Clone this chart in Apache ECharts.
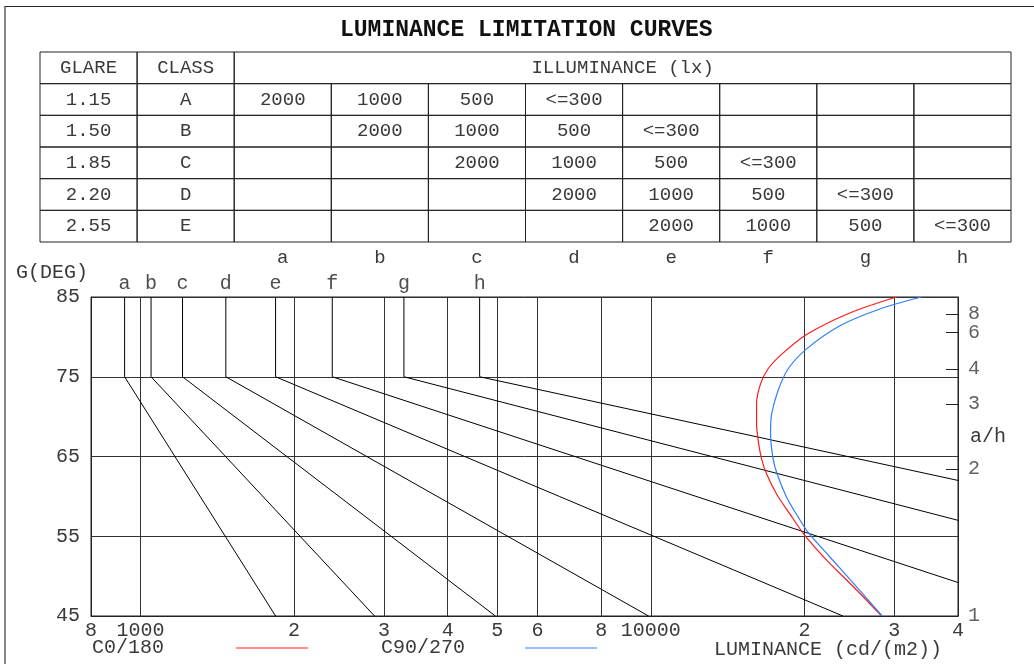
<!DOCTYPE html>
<html>
<head>
<meta charset="utf-8">
<title>Luminance limitation curves</title>
<script src="https://cdn.jsdelivr.net/npm/echarts@6/dist/echarts.min.js"></script>
<style>
html, body { margin: 0; padding: 0; background: #fff; }
#frame {
  position: absolute; left: 4px; top: 6px; width: 1030px; height: 658px;
  border-top: 1px solid #222; border-left: 2px solid #888; box-sizing: border-box;
}
#chart { position: absolute; left: 0; top: 0; width: 1034px; height: 664px; }
</style>
</head>
<body>
<div id="frame"></div>
<div id="chart"></div>
<script>
const FONT = '"Liberation Mono", "DejaVu Sans Mono", monospace';
const TEXT = '#3a3a3a';

// table
const headCells = ['GLARE', 'CLASS', 'ILLUMINANCE (lx)'];
const glareIndex = ['1.15', '1.50', '1.85', '2.20', '2.55'];
const glareClass = ['A', 'B', 'C', 'D', 'E'];
const illuminance = ['2000', '1000', '500', '<=300'];
const curveLetters = ['a', 'b', 'c', 'd', 'e', 'f', 'g', 'h'];

// axis ticks
const lumMin = 800, lumMax = 40000;
const lumTicks = [800, 1000, 2000, 3000, 4000, 5000, 6000, 8000, 10000, 20000, 30000, 40000];
const lumTickLabels = ['8', '1000', '2', '3', '4', '5', '6', '8', '10000', '2', '3', '4'];
const degTicks = [45, 55, 65, 75, 85];
const ratioTicks = [1, 2, 3, 4, 6, 8];   // a/h = tan(G)

// limit lines a..h : vertical 85..75 deg, then straight to the end point
const topDeg = 85;
const kneeDeg = 75;
const lum75 = [931, 1049, 1209, 1470, 1840, 2376, 3283, 4620];
const lumEnd = [1840, 2876, 4960, 9900, 23800, 40000, 40000, 40000];
const degEnd = [45, 45, 45, 45, 45, 49.2, 57.0, 62.0];

// luminance curves
const c0Lum = [30300, 24550, 20200, 18040, 16980, 16410, 16120, 16120, 16240, 16490, 16870, 17640, 18730, 20040, 22110, 24930, 28340];
const c0Deg = [85, 83.0, 80.3, 77.8, 76.0, 74.1, 71.6, 69.1, 67.0, 64.7, 62.8, 60.3, 57.8, 55.1, 52.0, 48.7, 45];
const c90Lum = [33950, 28120, 23480, 20200, 18590, 17770, 17250, 17170, 17370, 17690, 18460, 19450, 20340, 22440, 25120, 28410];
const c90Deg = [85, 83.5, 81.4, 78.5, 76.0, 73.3, 70.3, 67.8, 64.7, 62.8, 59.9, 57.4, 55.5, 52.4, 48.9, 45];

const cells = [];
headCells.forEach((t, i) => cells.push({ col: i, row: 0, span: i < 2 ? 1 : 8, text: t }));
glareIndex.forEach((g, r) => {
  cells.push({ col: 0, row: r + 1, span: 1, text: g });
  cells.push({ col: 1, row: r + 1, span: 1, text: glareClass[r] });
  for (let c = 0; c < 8; c++) {
    const k = c - r;
    cells.push({ col: c + 2, row: r + 1, span: 1, text: k >= 0 && k < illuminance.length ? illuminance[k] : '' });
  }
});

const ratioDeg = ratioTicks.map(r => Math.atan(r) * 180 / Math.PI);

function nearestLabel(values, labels, v) {
  let best = 0;
  values.forEach((t, i) => { if (Math.abs(t - v) < Math.abs(values[best] - v)) best = i; });
  return labels[best];
}

const legendNames = ['C0/180', 'C90/270'];

const lineSeries = curveLetters.map((l, i) => ({
  type: 'line', xAxisIndex: 0, yAxisIndex: 0, symbol: 'none', silent: true,
  lineStyle: { color: '#000', width: 1 },
  data: [[lum75[i], topDeg], [lum75[i], kneeDeg], [lumEnd[i], degEnd[i]]]
}));

const option = {
  animation: false,
  title: {
    text: 'LUMINANCE LIMITATION CURVES',
    left: 340, top: 19, padding: 0,
    textStyle: { fontFamily: FONT, fontWeight: 'bold', fontSize: 23, color: '#111' }
  },
  legend: {
    left: 92, top: 638, padding: 0,
    align: 'right', icon: 'rect',
    itemWidth: 72, itemHeight: 1, itemGap: 73,
    data: legendNames.map(n => ({ name: n, textStyle: { padding: [0, 139 - n.length * 12, 0, 0] } })),
    textStyle: { fontFamily: FONT, fontSize: 20, color: TEXT }
  },
  grid: [
    { left: 91, right: 76, top: 297, bottom: 48, show: true, borderColor: '#222', borderWidth: 1,
      containLabel: false, outerBoundsMode: 'none' },
    { left: 40, top: 52, width: 971, height: 190, containLabel: false, outerBoundsMode: 'none' }
  ],
  xAxis: [
    {
      type: 'log', gridIndex: 0, min: lumMin, max: lumMax,
      axisLine: { show: true, lineStyle: { color: '#222' } },
      axisTick: { show: false, customValues: lumTicks },
      axisLabel: {
        customValues: lumTicks, margin: 5, hideOverlap: false,
        fontFamily: FONT, fontSize: 20, color: TEXT,
        formatter: v => nearestLabel(lumTicks, lumTickLabels, v)
      },
      splitLine: { show: true, lineStyle: { color: '#333', width: 1 } },
      minorTick: { show: false },
      name: 'LUMINANCE (cd/(m2))', nameLocation: 'end', nameGap: -16, nameMoveOverlap: false,
      nameTextStyle: { align: 'right', verticalAlign: 'top', padding: [24, 0, 0, 0], fontFamily: FONT, fontSize: 20, color: TEXT }
    },
    {
      type: 'category', gridIndex: 1, data: ['', ''].concat(curveLetters),
      axisLine: { show: false }, axisTick: { show: false },
      axisLabel: { interval: 0, margin: 6, fontFamily: FONT, fontSize: 19, color: TEXT },
      splitLine: { show: false }
    }
  ],
  yAxis: [
    {
      type: 'value', gridIndex: 0, min: 45, max: 85,
      axisLine: { show: true, lineStyle: { color: '#222' } },
      axisTick: { show: false, customValues: degTicks },
      axisLabel: { customValues: degTicks, margin: 11, hideOverlap: false, fontFamily: FONT, fontSize: 20, color: TEXT },
      splitLine: { show: true, lineStyle: { color: '#333', width: 1 } },
      name: 'G(DEG)', nameLocation: 'end', nameGap: 24, nameMoveOverlap: false,
      nameTextStyle: { align: 'right', verticalAlign: 'middle', padding: [0, 3, 0, 0], fontFamily: FONT, fontSize: 20, color: TEXT }
    },
    {
      type: 'value', gridIndex: 0, min: 45, max: 85, position: 'right',
      axisLine: { show: true, lineStyle: { color: '#222' } },
      axisTick: { show: true, inside: true, length: 12, customValues: ratioDeg, lineStyle: { color: '#222' } },
      axisLabel: { show: false },
      splitLine: { show: false },
      name: 'a/h\n\n', nameLocation: 'middle', nameRotate: 0, nameGap: 12, nameMoveOverlap: false,
      nameTextStyle: { align: 'left', verticalAlign: 'middle', lineHeight: 19.5, fontFamily: FONT, fontSize: 20, color: TEXT }
    },
    {
      type: 'category', gridIndex: 1, inverse: true, show: false,
      data: ['0', '1', '2', '3', '4', '5']
    }
  ],
  series: lineSeries.concat([
    {
      type: 'scatter', xAxisIndex: 0, yAxisIndex: 0, symbolSize: 0, clip: false, silent: true,
      data: lum75.map(v => [v, topDeg]),
      label: {
        show: true, position: 'top', distance: 3,
        fontFamily: FONT, fontSize: 20, color: '#222',
        formatter: p => curveLetters[p.dataIndex]
      }
    },
    {
      // a/h scale labels along the right edge
      type: 'scatter', xAxisIndex: 0, yAxisIndex: 0, symbolSize: 0, clip: false, silent: true,
      data: ratioDeg.map(d => [lumMax, d]),
      label: {
        show: true, position: 'right', distance: 10,
        fontFamily: FONT, fontSize: 20, color: TEXT,
        formatter: p => String(ratioTicks[p.dataIndex])
      },
      labelLayout: { hideOverlap: false }
    },
    {
      name: 'C0/180', type: 'line', xAxisIndex: 0, yAxisIndex: 0,
      data: c0Lum.map((v, i) => [v, c0Deg[i]]),
      smooth: 0.3, symbol: 'none',
      lineStyle: { color: '#ff1a1a', width: 1.2 }, itemStyle: { color: '#ff1a1a' }
    },
    {
      name: 'C90/270', type: 'line', xAxisIndex: 0, yAxisIndex: 0,
      data: c90Lum.map((v, i) => [v, c90Deg[i]]),
      smooth: 0.3, symbol: 'none',
      lineStyle: { color: '#2a7fff', width: 1.2 }, itemStyle: { color: '#2a7fff' }
    },
    {
      type: 'custom', xAxisIndex: 1, yAxisIndex: 2, silent: true,
      data: cells.map(c => [c.col, c.row, c.span]),
      renderItem: (params, api) => {
        const cell = cells[params.dataIndex];
        const p = api.coord([api.value(0), api.value(1)]);
        const s = api.size([1, 1]);
        const w = s[0] * api.value(2), h = s[1];
        const x = p[0] - s[0] / 2, y = p[1] - h / 2;
        return {
          type: 'group',
          children: [
            { type: 'rect', shape: { x: x, y: y, width: w, height: h },
              style: { fill: 'none', stroke: '#222', lineWidth: 1 } },
            { type: 'text',
              style: { text: cell.text, x: x + w / 2, y: y + h / 2, align: 'center', verticalAlign: 'middle',
                       fill: TEXT, font: '19px ' + FONT } }
          ]
        };
      }
    }
  ])
};

const chart = echarts.init(document.getElementById('chart'));
chart.setOption(option);
</script>
</body>
</html>
